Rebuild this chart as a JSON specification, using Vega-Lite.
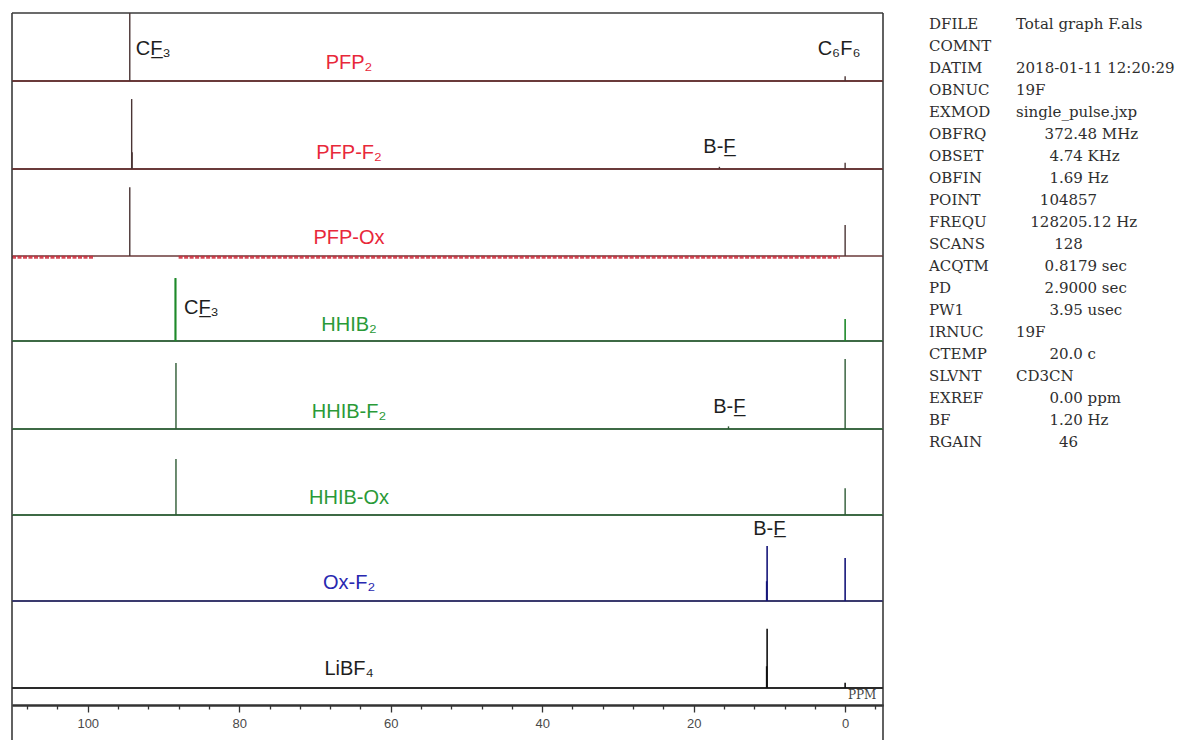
{
  "$schema": "https://vega.github.io/schema/vega-lite/v6.json",
  "background": "white",
  "padding": {"left": 10, "top": 12, "right": 0, "bottom": 0},
  "spacing": 45,
  "config": {"view": {"stroke": null}},
  "datasets": {
    "peaks": [
      {"spectrum": "PFP2", "ppm": 94.45, "h": 100},
      {"spectrum": "PFP2", "ppm": 0.0, "h": 7},
      {"spectrum": "PFP-F2", "ppm": 94.2, "h": 79.5},
      {"spectrum": "PFP-F2", "ppm": 94.14, "h": 19},
      {"spectrum": "PFP-F2", "ppm": 16.6, "h": 2.5},
      {"spectrum": "PFP-F2", "ppm": 0.0, "h": 7},
      {"spectrum": "PFP-Ox", "ppm": 94.45, "h": 79},
      {"spectrum": "PFP-Ox", "ppm": 0.0, "h": 35.6},
      {"spectrum": "HHIB2", "ppm": 88.45, "h": 74},
      {"spectrum": "HHIB2", "ppm": 88.38, "h": 74},
      {"spectrum": "HHIB2", "ppm": 0.0, "h": 26},
      {"spectrum": "HHIB-F2", "ppm": 88.35, "h": 75},
      {"spectrum": "HHIB-F2", "ppm": 15.4, "h": 3},
      {"spectrum": "HHIB-F2", "ppm": 0.0, "h": 79.5},
      {"spectrum": "HHIB-Ox", "ppm": 88.35, "h": 65},
      {"spectrum": "HHIB-Ox", "ppm": 0.0, "h": 31},
      {"spectrum": "Ox-F2", "ppm": 10.3, "h": 64},
      {"spectrum": "Ox-F2", "ppm": 10.36, "h": 23},
      {"spectrum": "Ox-F2", "ppm": 0.0, "h": 50},
      {"spectrum": "LiBF4", "ppm": 10.3, "h": 68},
      {"spectrum": "LiBF4", "ppm": 10.36, "h": 25},
      {"spectrum": "LiBF4", "ppm": 0.0, "h": 6}
    ],
    "noise": [
      {"spectrum": "PFP-Ox", "ppm": 110, "ppm_end": 99.1},
      {"spectrum": "PFP-Ox", "ppm": 88, "ppm_end": 0.7}
    ],
    "labels": [
      {"spectrum": "PFP2", "kind": "name", "ppm": 65.5, "h": 26.5, "text": "PFP\u2082"},
      {"spectrum": "PFP-F2", "kind": "name", "ppm": 65.5, "h": 18, "text": "PFP-F\u2082"},
      {"spectrum": "PFP-Ox", "kind": "name", "ppm": 65.5, "h": 20.7, "text": "PFP-Ox"},
      {"spectrum": "HHIB2", "kind": "name", "ppm": 65.5, "h": 19, "text": "HHIB\u2082"},
      {"spectrum": "HHIB-F2", "kind": "name", "ppm": 65.5, "h": 19.3, "text": "HHIB-F\u2082"},
      {"spectrum": "HHIB-Ox", "kind": "name", "ppm": 65.5, "h": 19.8, "text": "HHIB-Ox"},
      {"spectrum": "Ox-F2", "kind": "name", "ppm": 65.5, "h": 21, "text": "Ox-F\u2082"},
      {"spectrum": "LiBF4", "kind": "name", "ppm": 65.5, "h": 21.8, "text": "LiBF\u2084"},
      {"spectrum": "PFP2", "kind": "note", "ppm": 91.35, "h": 47, "text": "CF\u0332\u2083"},
      {"spectrum": "PFP2", "kind": "note", "ppm": 0.8, "h": 47, "text": "C\u2086F\u2086"},
      {"spectrum": "PFP-F2", "kind": "note", "ppm": 16.6, "h": 25, "text": "B-F\u0332"},
      {"spectrum": "HHIB2", "kind": "note", "ppm": 85.0, "h": 39, "text": "CF\u0332\u2083"},
      {"spectrum": "HHIB-F2", "kind": "note", "ppm": 15.3, "h": 25, "text": "B-F\u0332"},
      {"spectrum": "Ox-F2", "kind": "note", "ppm": 10.0, "h": 84, "text": "B-F\u0332"}
    ],
    "params": [
      {"name": "DFILE", "setting": "Total graph F.als"},
      {"name": "COMNT", "setting": ""},
      {"name": "DATIM", "setting": "2018-01-11 12:20:29"},
      {"name": "OBNUC", "setting": "19F"},
      {"name": "EXMOD", "setting": "single_pulse.jxp"},
      {"name": "OBFRQ", "setting": "\u200b\u00a0\u00a0\u00a0\u00a0\u00a0\u00a0372.48 MHz"},
      {"name": "OBSET", "setting": "\u200b\u00a0\u00a0\u00a0\u00a0\u00a0\u00a0\u00a04.74 KHz"},
      {"name": "OBFIN", "setting": "\u200b\u00a0\u00a0\u00a0\u00a0\u00a0\u00a0\u00a01.69 Hz"},
      {"name": "POINT", "setting": "\u200b\u00a0\u00a0\u00a0\u00a0\u00a0104857"},
      {"name": "FREQU", "setting": "\u200b\u00a0\u00a0\u00a0128205.12 Hz"},
      {"name": "SCANS", "setting": "\u200b\u00a0\u00a0\u00a0\u00a0\u00a0\u00a0\u00a0\u00a0128"},
      {"name": "ACQTM", "setting": "\u200b\u00a0\u00a0\u00a0\u00a0\u00a0\u00a00.8179 sec"},
      {"name": "PD", "setting": "\u200b\u00a0\u00a0\u00a0\u00a0\u00a0\u00a02.9000 sec"},
      {"name": "PW1", "setting": "\u200b\u00a0\u00a0\u00a0\u00a0\u00a0\u00a0\u00a03.95 usec"},
      {"name": "IRNUC", "setting": "19F"},
      {"name": "CTEMP", "setting": "\u200b\u00a0\u00a0\u00a0\u00a0\u00a0\u00a0\u00a020.0 c"},
      {"name": "SLVNT", "setting": "CD3CN"},
      {"name": "EXREF", "setting": "\u200b\u00a0\u00a0\u00a0\u00a0\u00a0\u00a0\u00a00.00 ppm"},
      {"name": "BF", "setting": "\u200b\u00a0\u00a0\u00a0\u00a0\u00a0\u00a0\u00a01.20 Hz"},
      {"name": "RGAIN", "setting": "\u200b\u00a0\u00a0\u00a0\u00a0\u00a0\u00a0\u00a0\u00a0\u00a046"}
    ]
  },
  "hconcat": [
    {
      "spacing": 0,
      "bounds": "flush",
      "vconcat": [
        {
          "width": 871, "height": 68,
          "layer": [
            {"data": {"values": [{"ppm": 110}, {"ppm": -5}]}, "mark": {"type": "rule", "color": "#3a3a3a", "strokeWidth": 1.6},
             "encoding": {"x": {"field": "ppm", "type": "quantitative", "scale": {"domain": [-5, 110], "reverse": true, "nice": false, "zero": false}, "axis": null}}},
            {"data": {"values": [{"ppm": 110, "top": 100}]}, "mark": {"type": "rule", "color": "#3a3a3a", "strokeWidth": 1.6},
             "encoding": {"x": {"field": "ppm", "type": "quantitative"}, "x2": {"datum": -5}, "y": {"field": "top", "type": "quantitative", "scale": {"domain": [0, 100], "nice": false}, "axis": null}}},
            {"data": {"values": [{"ppm": 110, "base": 0}]}, "mark": {"type": "rule", "color": "#6a3a3a", "strokeWidth": 1.8},
             "encoding": {"x": {"field": "ppm", "type": "quantitative"}, "x2": {"datum": -5}, "y": {"field": "base", "type": "quantitative"}}},
            {"data": {"name": "peaks"}, "transform": [{"filter": "datum.spectrum === 'PFP2'"}],
             "mark": {"type": "rule", "color": "#4a3434", "strokeWidth": 1.4},
             "encoding": {"x": {"field": "ppm", "type": "quantitative"}, "y": {"field": "h", "type": "quantitative"}, "y2": {"datum": 0}}},
            {"data": {"name": "labels"}, "transform": [{"filter": "datum.spectrum === 'PFP2' && datum.kind === 'name'"}],
             "mark": {"type": "text", "font": "Liberation Sans", "fontSize": 20, "color": "#e8283a"},
             "encoding": {"x": {"field": "ppm", "type": "quantitative"}, "y": {"field": "h", "type": "quantitative"}, "text": {"field": "text"}}},
            {"data": {"name": "labels"}, "transform": [{"filter": "datum.spectrum === 'PFP2' && datum.kind === 'note'"}],
             "mark": {"type": "text", "font": "Liberation Sans", "fontSize": 20, "color": "#1e1e1e"},
             "encoding": {"x": {"field": "ppm", "type": "quantitative"}, "y": {"field": "h", "type": "quantitative"}, "text": {"field": "text"}}}
          ]
        },
        {
          "width": 871, "height": 88,
          "layer": [
            {"data": {"values": [{"ppm": 110}, {"ppm": -5}]}, "mark": {"type": "rule", "color": "#3a3a3a", "strokeWidth": 1.6},
             "encoding": {"x": {"field": "ppm", "type": "quantitative", "scale": {"domain": [-5, 110], "reverse": true, "nice": false, "zero": false}, "axis": null}}},
            {"data": {"values": [{"ppm": 110, "base": 0}]}, "mark": {"type": "rule", "color": "#6a3a3a", "strokeWidth": 1.8},
             "encoding": {"x": {"field": "ppm", "type": "quantitative"}, "x2": {"datum": -5}, "y": {"field": "base", "type": "quantitative", "scale": {"domain": [0, 100], "nice": false}, "axis": null}}},
            {"data": {"name": "peaks"}, "transform": [{"filter": "datum.spectrum === 'PFP-F2'"}],
             "mark": {"type": "rule", "color": "#4a3434", "strokeWidth": 1.4},
             "encoding": {"x": {"field": "ppm", "type": "quantitative"}, "y": {"field": "h", "type": "quantitative"}, "y2": {"datum": 0}}},
            {"data": {"name": "labels"}, "transform": [{"filter": "datum.spectrum === 'PFP-F2' && datum.kind === 'name'"}],
             "mark": {"type": "text", "font": "Liberation Sans", "fontSize": 20, "color": "#e8283a"},
             "encoding": {"x": {"field": "ppm", "type": "quantitative"}, "y": {"field": "h", "type": "quantitative"}, "text": {"field": "text"}}},
            {"data": {"name": "labels"}, "transform": [{"filter": "datum.spectrum === 'PFP-F2' && datum.kind === 'note'"}],
             "mark": {"type": "text", "font": "Liberation Sans", "fontSize": 20, "color": "#1e1e1e"},
             "encoding": {"x": {"field": "ppm", "type": "quantitative"}, "y": {"field": "h", "type": "quantitative"}, "text": {"field": "text"}}}
          ]
        },
        {
          "width": 871, "height": 87,
          "layer": [
            {"data": {"values": [{"ppm": 110}, {"ppm": -5}]}, "mark": {"type": "rule", "color": "#3a3a3a", "strokeWidth": 1.6},
             "encoding": {"x": {"field": "ppm", "type": "quantitative", "scale": {"domain": [-5, 110], "reverse": true, "nice": false, "zero": false}, "axis": null}}},
            {"data": {"values": [{"ppm": 110, "base": 0}]}, "mark": {"type": "rule", "color": "#6a3a3a", "strokeWidth": 1.6},
             "encoding": {"x": {"field": "ppm", "type": "quantitative"}, "x2": {"datum": -5}, "y": {"field": "base", "type": "quantitative", "scale": {"domain": [0, 100], "nice": false}, "axis": null}}},
            {"data": {"name": "noise"}, "transform": [{"filter": "datum.spectrum === 'PFP-Ox'"}],
             "mark": {"type": "rule", "color": "#cc2a3a", "strokeWidth": 3, "strokeDash": [4, 1.5], "opacity": 0.85},
             "encoding": {"x": {"field": "ppm", "type": "quantitative"}, "x2": {"field": "ppm_end"}, "y": {"datum": -1.5}}},
            {"data": {"name": "peaks"}, "transform": [{"filter": "datum.spectrum === 'PFP-Ox'"}],
             "mark": {"type": "rule", "color": "#4a3434", "strokeWidth": 1.4},
             "encoding": {"x": {"field": "ppm", "type": "quantitative"}, "y": {"field": "h", "type": "quantitative"}, "y2": {"datum": 0}}},
            {"data": {"name": "labels"}, "transform": [{"filter": "datum.spectrum === 'PFP-Ox' && datum.kind === 'name'"}],
             "mark": {"type": "text", "font": "Liberation Sans", "fontSize": 20, "color": "#e8283a"},
             "encoding": {"x": {"field": "ppm", "type": "quantitative"}, "y": {"field": "h", "type": "quantitative"}, "text": {"field": "text"}}}
          ]
        },
        {
          "width": 871, "height": 85,
          "layer": [
            {"data": {"values": [{"ppm": 110}, {"ppm": -5}]}, "mark": {"type": "rule", "color": "#3a3a3a", "strokeWidth": 1.6},
             "encoding": {"x": {"field": "ppm", "type": "quantitative", "scale": {"domain": [-5, 110], "reverse": true, "nice": false, "zero": false}, "axis": null}}},
            {"data": {"values": [{"ppm": 110, "base": 0}]}, "mark": {"type": "rule", "color": "#3d6a45", "strokeWidth": 1.8},
             "encoding": {"x": {"field": "ppm", "type": "quantitative"}, "x2": {"datum": -5}, "y": {"field": "base", "type": "quantitative", "scale": {"domain": [0, 100], "nice": false}, "axis": null}}},
            {"data": {"name": "peaks"}, "transform": [{"filter": "datum.spectrum === 'HHIB2'"}],
             "mark": {"type": "rule", "color": "#1e8a2a", "strokeWidth": 1.6},
             "encoding": {"x": {"field": "ppm", "type": "quantitative"}, "y": {"field": "h", "type": "quantitative"}, "y2": {"datum": 0}}},
            {"data": {"name": "labels"}, "transform": [{"filter": "datum.spectrum === 'HHIB2' && datum.kind === 'name'"}],
             "mark": {"type": "text", "font": "Liberation Sans", "fontSize": 20, "color": "#2a9a38"},
             "encoding": {"x": {"field": "ppm", "type": "quantitative"}, "y": {"field": "h", "type": "quantitative"}, "text": {"field": "text"}}},
            {"data": {"name": "labels"}, "transform": [{"filter": "datum.spectrum === 'HHIB2' && datum.kind === 'note'"}],
             "mark": {"type": "text", "font": "Liberation Sans", "fontSize": 20, "color": "#1e1e1e"},
             "encoding": {"x": {"field": "ppm", "type": "quantitative"}, "y": {"field": "h", "type": "quantitative"}, "text": {"field": "text"}}}
          ]
        },
        {
          "width": 871, "height": 88,
          "layer": [
            {"data": {"values": [{"ppm": 110}, {"ppm": -5}]}, "mark": {"type": "rule", "color": "#3a3a3a", "strokeWidth": 1.6},
             "encoding": {"x": {"field": "ppm", "type": "quantitative", "scale": {"domain": [-5, 110], "reverse": true, "nice": false, "zero": false}, "axis": null}}},
            {"data": {"values": [{"ppm": 110, "base": 0}]}, "mark": {"type": "rule", "color": "#3d6a45", "strokeWidth": 1.8},
             "encoding": {"x": {"field": "ppm", "type": "quantitative"}, "x2": {"datum": -5}, "y": {"field": "base", "type": "quantitative", "scale": {"domain": [0, 100], "nice": false}, "axis": null}}},
            {"data": {"name": "peaks"}, "transform": [{"filter": "datum.spectrum === 'HHIB-F2'"}],
             "mark": {"type": "rule", "color": "#2d5a34", "strokeWidth": 1.4},
             "encoding": {"x": {"field": "ppm", "type": "quantitative"}, "y": {"field": "h", "type": "quantitative"}, "y2": {"datum": 0}}},
            {"data": {"name": "labels"}, "transform": [{"filter": "datum.spectrum === 'HHIB-F2' && datum.kind === 'name'"}],
             "mark": {"type": "text", "font": "Liberation Sans", "fontSize": 20, "color": "#2a9a38"},
             "encoding": {"x": {"field": "ppm", "type": "quantitative"}, "y": {"field": "h", "type": "quantitative"}, "text": {"field": "text"}}},
            {"data": {"name": "labels"}, "transform": [{"filter": "datum.spectrum === 'HHIB-F2' && datum.kind === 'note'"}],
             "mark": {"type": "text", "font": "Liberation Sans", "fontSize": 20, "color": "#1e1e1e"},
             "encoding": {"x": {"field": "ppm", "type": "quantitative"}, "y": {"field": "h", "type": "quantitative"}, "text": {"field": "text"}}}
          ]
        },
        {
          "width": 871, "height": 86,
          "layer": [
            {"data": {"values": [{"ppm": 110}, {"ppm": -5}]}, "mark": {"type": "rule", "color": "#3a3a3a", "strokeWidth": 1.6},
             "encoding": {"x": {"field": "ppm", "type": "quantitative", "scale": {"domain": [-5, 110], "reverse": true, "nice": false, "zero": false}, "axis": null}}},
            {"data": {"values": [{"ppm": 110, "base": 0}]}, "mark": {"type": "rule", "color": "#3d6a45", "strokeWidth": 1.8},
             "encoding": {"x": {"field": "ppm", "type": "quantitative"}, "x2": {"datum": -5}, "y": {"field": "base", "type": "quantitative", "scale": {"domain": [0, 100], "nice": false}, "axis": null}}},
            {"data": {"name": "peaks"}, "transform": [{"filter": "datum.spectrum === 'HHIB-Ox'"}],
             "mark": {"type": "rule", "color": "#2d5a34", "strokeWidth": 1.4},
             "encoding": {"x": {"field": "ppm", "type": "quantitative"}, "y": {"field": "h", "type": "quantitative"}, "y2": {"datum": 0}}},
            {"data": {"name": "labels"}, "transform": [{"filter": "datum.spectrum === 'HHIB-Ox' && datum.kind === 'name'"}],
             "mark": {"type": "text", "font": "Liberation Sans", "fontSize": 20, "color": "#2a9a38"},
             "encoding": {"x": {"field": "ppm", "type": "quantitative"}, "y": {"field": "h", "type": "quantitative"}, "text": {"field": "text"}}}
          ]
        },
        {
          "width": 871, "height": 86,
          "layer": [
            {"data": {"values": [{"ppm": 110}, {"ppm": -5}]}, "mark": {"type": "rule", "color": "#3a3a3a", "strokeWidth": 1.6},
             "encoding": {"x": {"field": "ppm", "type": "quantitative", "scale": {"domain": [-5, 110], "reverse": true, "nice": false, "zero": false}, "axis": null}}},
            {"data": {"values": [{"ppm": 110, "base": 0}]}, "mark": {"type": "rule", "color": "#3a3a6e", "strokeWidth": 1.8},
             "encoding": {"x": {"field": "ppm", "type": "quantitative"}, "x2": {"datum": -5}, "y": {"field": "base", "type": "quantitative", "scale": {"domain": [0, 100], "nice": false}, "axis": null}}},
            {"data": {"name": "peaks"}, "transform": [{"filter": "datum.spectrum === 'Ox-F2'"}],
             "mark": {"type": "rule", "color": "#16167a", "strokeWidth": 1.6},
             "encoding": {"x": {"field": "ppm", "type": "quantitative"}, "y": {"field": "h", "type": "quantitative"}, "y2": {"datum": 0}}},
            {"data": {"name": "labels"}, "transform": [{"filter": "datum.spectrum === 'Ox-F2' && datum.kind === 'name'"}],
             "mark": {"type": "text", "font": "Liberation Sans", "fontSize": 20, "color": "#2828b0"},
             "encoding": {"x": {"field": "ppm", "type": "quantitative"}, "y": {"field": "h", "type": "quantitative"}, "text": {"field": "text"}}},
            {"data": {"name": "labels"}, "transform": [{"filter": "datum.spectrum === 'Ox-F2' && datum.kind === 'note'"}],
             "mark": {"type": "text", "font": "Liberation Sans", "fontSize": 20, "color": "#1e1e1e"},
             "encoding": {"x": {"field": "ppm", "type": "quantitative"}, "y": {"field": "h", "type": "quantitative"}, "text": {"field": "text"}}}
          ]
        },
        {
          "width": 871, "height": 140,
          "resolve": {"axis": {"x": "independent"}},
          "layer": [
            {"data": {"values": [{"ppm": 110}, {"ppm": -5}]}, "mark": {"type": "rule", "color": "#3a3a3a", "strokeWidth": 1.6},
             "encoding": {"x": {"field": "ppm", "type": "quantitative", "scale": {"domain": [-5, 110], "reverse": true, "nice": false, "zero": false},
               "axis": {"orient": "bottom", "title": null, "grid": false, "offset": -36, "labels": false, "values": [108, 104, 96, 92, 88, 84, 76, 72, 68, 64, 56, 52, 48, 44, 36, 32, 28, 24, 16, 12, 8, 4, -4],
                 "domainColor": "#333333", "domainWidth": 2, "tickColor": "#333333", "tickWidth": 1.3, "tickSize": 4}}}},
            {"data": {"values": [{"ppm": 110, "base": 0}]}, "mark": {"type": "rule", "color": "#2a2a2a", "strokeWidth": 1.8},
             "encoding": {"x": {"field": "ppm", "type": "quantitative",
               "axis": {"orient": "bottom", "title": null, "grid": false, "offset": -36, "values": [100, 80, 60, 40, 20, 0],
                 "domainColor": "#333333", "domainWidth": 2, "tickColor": "#333333", "tickWidth": 1.3, "tickSize": 7,
                 "labelFont": "Liberation Sans", "labelFontSize": 13, "labelColor": "#4a4a4a", "labelPadding": 5}},
               "x2": {"datum": -5}, "y": {"field": "base", "type": "quantitative", "scale": {"domain": [-60.9, 100], "nice": false, "zero": false}, "axis": null}}},
            {"data": {"name": "peaks"}, "transform": [{"filter": "datum.spectrum === 'LiBF4'"}],
             "mark": {"type": "rule", "color": "#111111", "strokeWidth": 1.6},
             "encoding": {"x": {"field": "ppm", "type": "quantitative", "axis": null}, "y": {"field": "h", "type": "quantitative"}, "y2": {"datum": 0}}},
            {"data": {"name": "labels"}, "transform": [{"filter": "datum.spectrum === 'LiBF4' && datum.kind === 'name'"}],
             "mark": {"type": "text", "font": "Liberation Sans", "fontSize": 20, "color": "#1e1e1e"},
             "encoding": {"x": {"field": "ppm", "type": "quantitative", "axis": null}, "y": {"field": "h", "type": "quantitative"}, "text": {"field": "text"}}},
            {"data": {"values": [{"ppm": -2.25, "h": -8}]},
             "mark": {"type": "text", "text": "PPM", "font": "DejaVu Serif", "fontSize": 12, "color": "#444444"},
             "encoding": {"x": {"field": "ppm", "type": "quantitative", "axis": null}, "y": {"field": "h", "type": "quantitative"}}}
          ]
        }
      ]
    },
    {
      "width": 260, "height": 440,
      "data": {"name": "params"},
      "transform": [{"fold": ["name", "setting"], "as": ["col", "txt"]}],
      "mark": {"type": "text", "align": "left", "baseline": "middle", "font": "DejaVu Serif", "fontSize": 15, "color": "#2e2e2e"},
      "encoding": {
        "x": {"field": "col", "type": "nominal", "scale": {"type": "point", "domain": ["name", "setting"], "range": [0, 87], "padding": 0}, "axis": null},
        "y": {"field": "name", "type": "nominal", "sort": null, "axis": null},
        "text": {"field": "txt"}
      }
    }
  ]
}
